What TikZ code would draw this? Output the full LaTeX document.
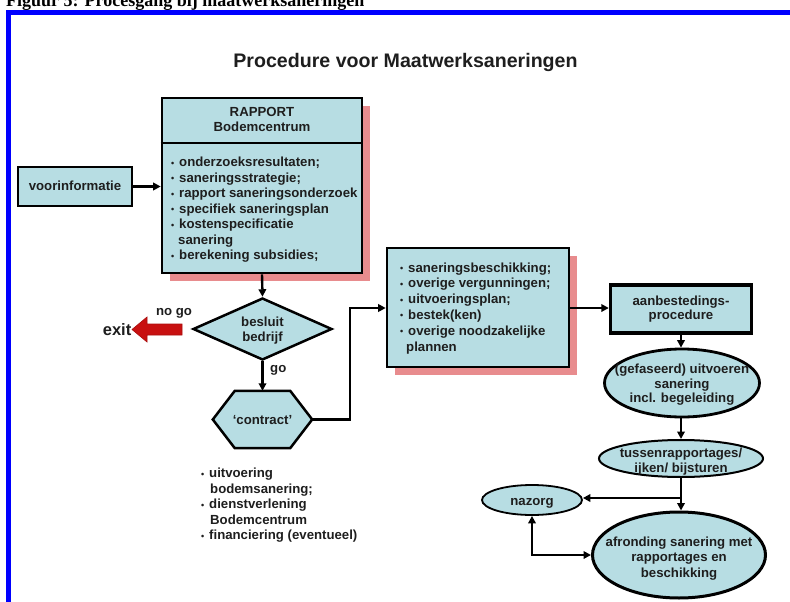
\documentclass[tikz,border=0pt]{standalone}
\usepackage{fontspec}
\setmainfont{Liberation Sans}
\newfontfamily\headserif{Liberation Serif}
\usetikzlibrary{arrows.meta,shapes.geometric,shadows}
\definecolor{boxblue}{RGB}{183,221,227}
\definecolor{shadowpink}{RGB}{232,140,142}
\definecolor{exitred}{RGB}{200,16,16}
\definecolor{frameblue}{RGB}{0,0,255}
\definecolor{ink}{RGB}{30,30,30}
\newcommand\blt{\makebox[8pt][l]{\fontsize{9}{9}\selectfont\raisebox{0.5pt}{•}}}
\begin{document}
\begin{tikzpicture}[x=1pt,y=-1pt,
  txt/.style={font=\fontsize{13.2}{15.5}\selectfont\bfseries, inner sep=0pt, text=ink, anchor=base},
  ltxt/.style={txt, anchor=base west},
  box/.style={draw=black, fill=boxblue, line width=2.6pt, inner sep=0pt},
  pinkshadow/.style={drop shadow={shadow xshift=8pt, shadow yshift=-8pt, fill=shadowpink, opacity=1}},
  ell/.style={ellipse, draw=black, fill=boxblue, line width=2.5pt, inner sep=0pt},
  arr/.style={line width=2.4pt, draw=black, -{Triangle[length=7.5pt,width=7.5pt]}},
  arrboth/.style={line width=2.4pt, draw=black, {Triangle[length=7.5pt,width=7.5pt]}-{Triangle[length=7.5pt,width=7.5pt]}},
]
\useasboundingbox[fill=white] (0,0) rectangle (790,602);

% frame and figure heading
\node[anchor=base west, inner sep=0pt, font={\headserif\fontsize{18}{18}\selectfont\bfseries}] (fighead) at (6,7) {Figuur 5: Procesgang bij maatwerksaneringen};
\draw[frameblue, line width=5pt] (8.5,602) -- (8.5,12.5) -- (790,12.5);

% title
\node[anchor=base, inner sep=0pt, text=ink, font={\fontsize{19.6}{19.6}\selectfont\bfseries}] (title) at (405.5,68) {Procedure voor Maatwerksaneringen};

% voorinformatie
\node[box, minimum width=114pt, minimum height=39pt] (voor) at (75,186.5) {};
\node[txt] (tvoor) at (75,190.5) {voorinformatie};

% RAPPORT box
\node[box, pinkshadow, minimum width=200pt, minimum height=175pt] (rapport) at (262,185.5) {};
\coordinate (divy) at (0,143);
\draw[line width=2.6pt] (rapport.west |- divy) -- (rapport.east |- divy);
\node[txt] (rh1) at (262,116) {RAPPORT};
\node[txt] (rh2) at (262,131.5) {Bodemcentrum};
\node[ltxt] (r1) at (171,166.5) {\blt onderzoeksresultaten;};
\node[ltxt] (r2) at (171,182) {\blt saneringsstrategie;};
\node[ltxt] (r3) at (171,197.5) {\blt rapport saneringsonderzoek};
\node[ltxt] (r4) at (171,213) {\blt specifiek saneringsplan};
\node[ltxt] (r5) at (171,228.5) {\blt kostenspecificatie};
\node[ltxt] (r6) at (178,244) {sanering};
\node[ltxt] (r7) at (171,259.5) {\blt berekening subsidies;};

% decision diamond
\node[diamond, draw=black, fill=boxblue, line width=2.5pt, inner sep=0pt, minimum width=139pt, minimum height=62pt] (besluit) at (262.5,329) {};
\node[txt] (tb1) at (262.5,326.5) {besluit};
\node[txt] (tb2) at (262.5,341.5) {bedrijf};

% exit
\filldraw[fill=exitred, draw=exitred!85!black, line width=0.6pt] (182,324) -- (147,324) -- (147,317) -- (132,329.5) -- (147,342) -- (147,335) -- (182,335) -- cycle;
\node[txt] (nogo) at (174,315.5) {no go};
\node[anchor=base east, inner sep=0pt, text=ink, font={\fontsize{16.5}{16.5}\selectfont\bfseries}] (exit) at (131.5,335) {exit};
\node[ltxt] (go) at (270,372) {go};

% contract hexagon
\node[minimum width=99pt, minimum height=57pt, inner sep=0pt] (contract) at (262.5,419.5) {};
\filldraw[fill=boxblue, draw=black, line width=2.5pt, line join=miter]
  (contract.west) -- ([xshift=22pt]contract.north west) -- ([xshift=-22pt]contract.north east)
  -- (contract.east) -- ([xshift=-22pt]contract.south east) -- ([xshift=22pt]contract.south west) -- cycle;
\node[txt] (tcontract) at (262.5,424.5) {`contract'};

% contract list
\node[ltxt] (c1) at (201,477.5) {\blt uitvoering};
\node[ltxt] (c2) at (210,493) {bodemsanering;};
\node[ltxt] (c3) at (201,508.5) {\blt dienstverlening};
\node[ltxt] (c4) at (210,524) {Bodemcentrum};
\node[ltxt] (c5) at (201,539.5) {\blt financiering (eventueel)};

% plans box
\node[box, pinkshadow, minimum width=182pt, minimum height=119pt] (plans) at (478,307.5) {};
\node[ltxt] (p1) at (400,272) {\blt saneringsbeschikking;};
\node[ltxt] (p2) at (400,287.8) {\blt overige vergunningen;};
\node[ltxt] (p3) at (400,303.6) {\blt uitvoeringsplan;};
\node[ltxt] (p4) at (400,319.4) {\blt bestek(ken)};
\node[ltxt] (p5) at (400,335.2) {\blt overige noodzakelijke};
\node[ltxt] (p6) at (406,351) {plannen};

% aanbesteding box
\node[box, line width=3.4pt, minimum width=141pt, minimum height=48pt] (aanb) at (681,309) {};
\node[txt] (ta1) at (681,305.5) {aanbestedings-};
\node[txt] (ta2) at (681,319.5) {procedure};

% ellipses
\node[ell, line width=2.8pt, minimum width=155pt, minimum height=68pt] (uitv) at (682,383) {};
\node[txt] (tu1) at (682,373.5) {(gefaseerd) uitvoeren};
\node[txt] (tu2) at (682,388) {sanering};
\node[txt] (tu3) at (682,402.5) {incl. begeleiding};

\node[ell, line width=2pt, minimum width=164pt, minimum height=37pt] (tussen) at (681,458.5) {};
\node[txt] (tt1) at (681,457.5) {tussenrapportages/};
\node[txt] (tt2) at (681,472.5) {ijken/ bijsturen};

\node[ell, line width=1.8pt, minimum width=100pt, minimum height=30pt] (nazorg) at (532,500) {};
\node[txt] (tn) at (532,505) {nazorg};

\node[ell, line width=3pt, minimum width=173pt, minimum height=86pt] (afr) at (679,555) {};
\node[txt] (tf1) at (679,546.5) {afronding sanering met};
\node[txt] (tf2) at (679,561.5) {rapportages en};
\node[txt] (tf3) at (679,577) {beschikking};

% connectors
\draw[arr] (voor.east) -- (voor.east -| rapport.west);
\draw[arr] (rapport.south) -- (besluit.north);
\draw[arr] (besluit.south) -- (contract.north);
\coordinate (bend) at (350,308);
\draw[arr] (contract.east) -| (bend) -- (bend -| plans.west);
\draw[arr] (plans.east |- bend) -- (aanb.west |- bend);
\draw[arr] (aanb.south) -- (aanb.south |- uitv.north);
\draw[arr] (aanb.south |- uitv.south) -- (aanb.south |- tussen.north);
\draw[arr] (aanb.south |- tussen.south) -- (aanb.south |- afr.north);
\coordinate (split) at (681,498);
\draw[arr] (split) -- (split -| nazorg.east);
\draw[arrboth] (nazorg.south) |- (afr.west);
\end{tikzpicture}
\end{document}
